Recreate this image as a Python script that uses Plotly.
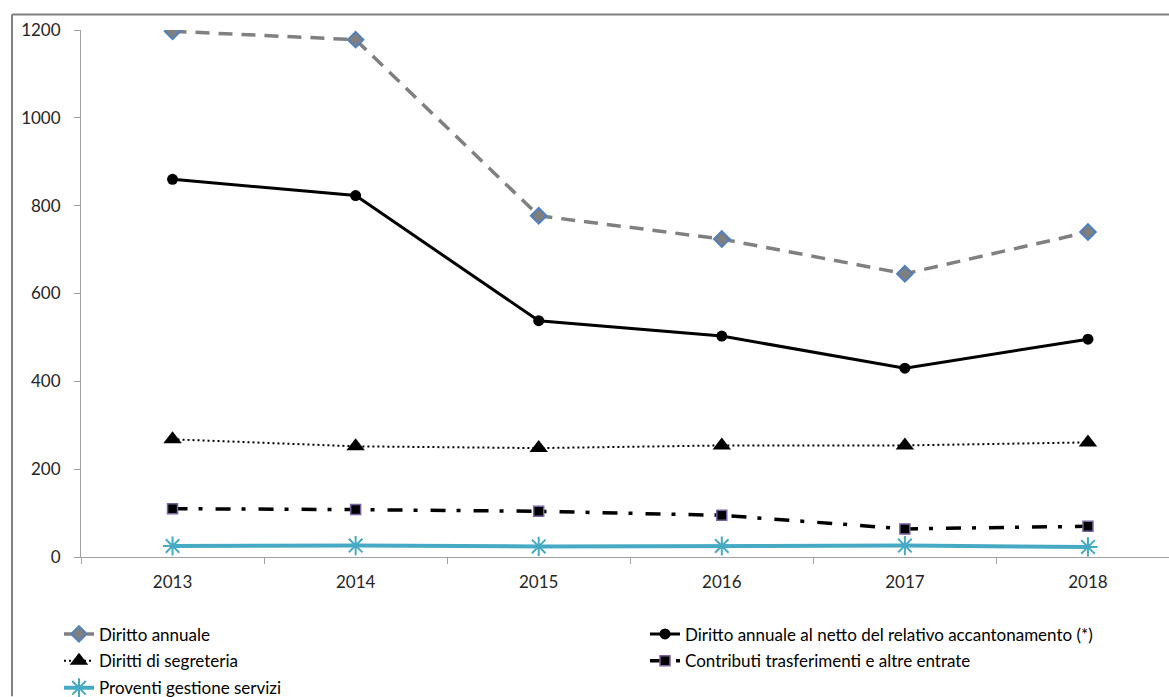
import plotly.graph_objects as go

# Years on the category axis
years = ["2013", "2014", "2015", "2016", "2017", "2018"]

# Revenue series (values in thousands of euro)
diritto_annuale = [1197, 1178, 777, 724, 645, 740]
diritto_netto = [860, 823, 538, 503, 430, 496]
diritti_segreteria = [268, 252, 248, 254, 254, 261]
contributi = [110, 108, 104, 95, 64, 70]
proventi_servizi = [25, 26, 24, 25, 26, 23]

series_names = [
    "Diritto annuale",
    "Diritto annuale al netto del relativo accantonamento (*)",
    "Diritti di segreteria",
    "Contributi trasferimenti e altre entrate",
    "Proventi gestione servizi",
]

y_ticks = [0, 200, 400, 600, 800, 1000, 1200]

FONT = "Lato"
W, H = 1169, 697
PLOT_L, PLOT_R = 81, 1169
PLOT_T, PLOT_B = 29.5, 557.5


def px_x(px):
    return (px - PLOT_L) / (PLOT_R - PLOT_L)


def px_y(py):
    return (PLOT_B - py) / (PLOT_B - PLOT_T)


fig = go.Figure()

fig.add_trace(go.Scatter(
    x=years, y=diritto_annuale, name=series_names[0], mode="lines+markers",
    line=dict(color="#808080", width=3.5, dash="14px,9px"),
    marker=dict(symbol="diamond", size=12, color="#7f7f7f",
                line=dict(color="#4f81bd", width=2)),
    legend="legend",
))
fig.add_trace(go.Scatter(
    x=years, y=diritto_netto, name=series_names[1], mode="lines+markers",
    line=dict(color="#000000", width=3),
    marker=dict(symbol="circle", size=11, color="#000000"),
    legend="legend2",
))
fig.add_trace(go.Scatter(
    x=years, y=diritti_segreteria, name=series_names[2], mode="lines+markers",
    line=dict(color="#000000", width=2, dash="2px,3px"),
    marker=dict(symbol="triangle-up", size=16, color="#000000"),
    legend="legend3",
))
fig.add_trace(go.Scatter(
    x=years, y=contributi, name=series_names[3], mode="lines+markers",
    line=dict(color="#000000", width=3.5, dash="15px,11px,4px,13px"),
    marker=dict(symbol="square", size=10, color="#000000",
                line=dict(color="#7b62a3", width=1.5)),
    legend="legend4",
))
fig.add_trace(go.Scatter(
    x=years, y=proventi_servizi, name=series_names[4], mode="lines+markers",
    line=dict(color="#46aac5", width=4),
    marker=dict(symbol="asterisk-open", size=16, color="#46aac5",
                line=dict(color="#46aac5", width=2)),
    legend="legend5",
))

legend_font = dict(family=FONT, size=17, color="#000000")


def legend_at(px, py):
    return dict(
        x=px_x(px), y=px_y(py), xanchor="left", yanchor="middle",
        xref="paper", yref="paper", bgcolor="rgba(0,0,0,0)",
        borderwidth=0, font=legend_font, itemwidth=30,
    )


fig.update_layout(
    width=W, height=H,
    margin=dict(l=PLOT_L, r=W - PLOT_R, t=PLOT_T, b=H - PLOT_B, pad=0,
                autoexpand=False),
    paper_bgcolor="white", plot_bgcolor="white",
    font=dict(family=FONT, size=17, color="#262626"),
    showlegend=True,
    legend=legend_at(59, 635),
    legend2=legend_at(645, 635),
    legend3=legend_at(59, 662),
    legend4=legend_at(645, 662),
    legend5=legend_at(59, 689),
    xaxis=dict(
        type="category", range=[-0.5, (PLOT_R - 173) / 183.0],
        tickson="boundaries", ticks="outside", ticklen=6, tickcolor="#a0a0a0",
        showline=True, linecolor="#a0a0a0", linewidth=1,
        showgrid=False, zeroline=False, ticklabelstandoff=10,
        tickfont=dict(family=FONT, size=17, color="#262626"),
    ),
    yaxis=dict(
        range=[0, 1200], tickvals=y_ticks, ticks="outside", ticklen=6,
        tickcolor="#a0a0a0", showline=True, linecolor="#a0a0a0", linewidth=1,
        showgrid=False, zeroline=False, ticklabelstandoff=10,
        tickfont=dict(family=FONT, size=17, color="#262626"),
    ),
    shapes=[
        dict(type="line", xref="paper", yref="paper",
             x0=px_x(12), y0=px_y(14), x1=1.0, y1=px_y(14),
             line=dict(color="#808080", width=2)),
        dict(type="line", xref="paper", yref="paper",
             x0=px_x(12), y0=px_y(14), x1=px_x(12), y1=px_y(H),
             line=dict(color="#808080", width=2)),
    ],
)

fig.write_html("out.html")
